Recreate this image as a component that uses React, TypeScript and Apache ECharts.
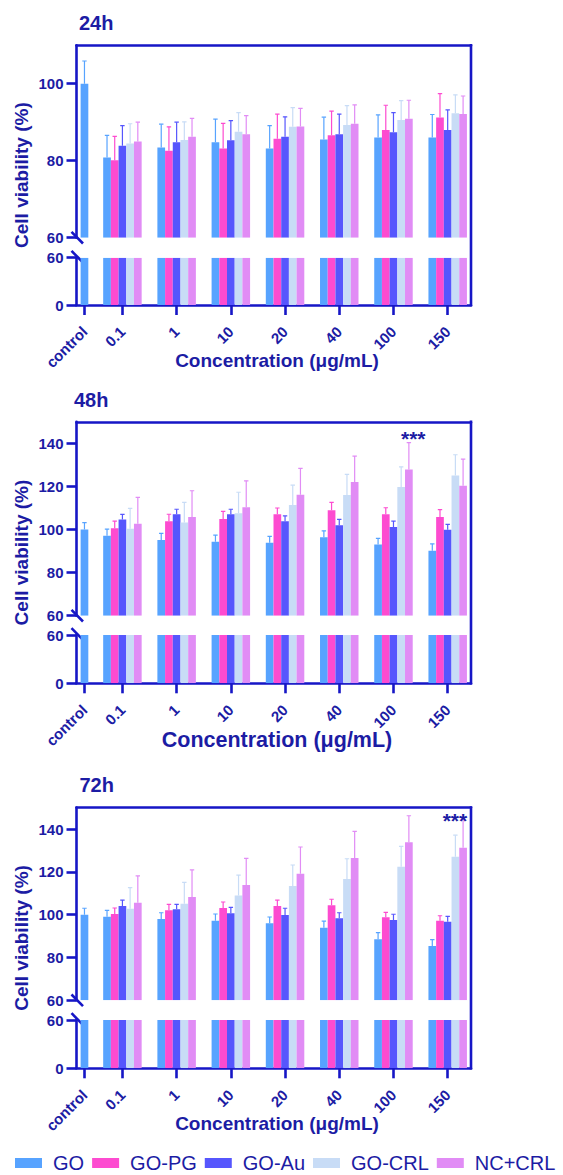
import React, { useEffect, useRef } from 'react';
import * as echarts from 'echarts';

// ---------------- data ----------------
const CATEGORIES = ['control', '0.1', '1', '10', '20', '40', '100', '150'];
const SERIES_NAMES = ['GO', 'GO-PG', 'GO-Au', 'GO-CRL', 'NC+CRL'];
const TIMEPOINTS = ['24h', '48h', '72h'];

// 24 h (mean, SD)
const H24_GO = [100, 80.8, 83.4, 84.8, 83.2, 85.5, 86.0, 86.0];
const H24_GO_SD = [5.9, 5.8, 6.1, 6.0, 5.9, 5.8, 5.9, 6.0];
const H24_PG = [null, 80.1, 82.6, 83.2, 85.7, 86.6, 88.0, 91.2];
const H24_PG_SD = [null, 6.2, 6.2, 6.5, 6.4, 6.3, 6.4, 6.2];
const H24_AU = [null, 83.9, 84.8, 85.3, 86.2, 86.9, 87.4, 88.0];
const H24_AU_SD = [null, 5.2, 5.2, 5.1, 5.2, 5.2, 5.1, 5.2];
const H24_CRL = [null, 84.5, 85.4, 87.5, 88.8, 89.3, 90.6, 92.3];
const H24_CRL_SD = [null, 5.1, 4.7, 5.0, 5.0, 5.0, 5.0, 4.8];
const H24_NC = [null, 85.0, 86.2, 86.9, 88.9, 89.6, 90.9, 92.1];
const H24_NC_SD = [null, 5.0, 4.8, 4.8, 4.7, 4.9, 4.8, 4.7];

// 48 h
const H48_GO = [100, 97.1, 95.1, 94.3, 93.9, 96.4, 93.1, 90.2];
const H48_GO_SD = [3.2, 3.1, 3.1, 3.1, 2.9, 3.0, 2.8, 3.1];
const H48_PG = [null, 100.6, 103.8, 104.9, 107.1, 109.0, 107.1, 105.8];
const H48_PG_SD = [null, 3.3, 3.3, 3.5, 2.9, 3.6, 3.0, 3.4];
const H48_AU = [null, 104.7, 107.1, 107.1, 103.8, 102.0, 101.2, 99.9];
const H48_AU_SD = [null, 2.3, 2.3, 2.3, 2.5, 2.7, 2.7, 2.5];
const H48_CRL = [null, 100.4, 103.3, 107.5, 111.4, 116.0, 119.7, 125.1];
const H48_CRL_SD = [null, 9.4, 9.3, 9.8, 9.2, 9.6, 9.4, 9.6];
const H48_NC = [null, 102.7, 105.8, 110.3, 116.1, 122.0, 127.9, 120.3];
const H48_NC_SD = [null, 12.2, 12.2, 12.3, 12.3, 12.1, 12.4, 12.4];

// 72 h
const H72_GO = [100, 99.0, 98.0, 97.2, 96.0, 93.9, 88.5, 85.4];
const H72_GO_SD = [3.0, 3.0, 2.9, 3.1, 2.9, 3.1, 3.1, 2.9];
const H72_PG = [null, 100.3, 102.0, 103.1, 104.0, 104.4, 98.8, 97.2];
const H72_PG_SD = [null, 2.8, 2.8, 2.8, 2.8, 2.8, 2.3, 2.3];
const H72_AU = [null, 104.0, 102.5, 100.6, 99.8, 98.3, 97.5, 96.7];
const H72_AU_SD = [null, 2.8, 2.3, 2.8, 3.2, 2.6, 2.7, 2.5];
const H72_CRL = [null, 102.8, 105.1, 108.9, 113.4, 116.7, 122.4, 127.1];
const H72_CRL_SD = [null, 9.8, 10.0, 9.6, 9.8, 9.4, 9.5, 10.0];
const H72_NC = [null, 105.6, 108.2, 113.9, 119.1, 126.5, 133.8, 131.3];
const H72_NC_SD = [null, 12.5, 12.7, 12.4, 12.5, 12.4, 12.4, 13.2];

// axis ticks
const UPPER_TICKS_24H = [60, 80, 100];
const UPPER_TICKS_LATE = [60, 80, 100, 120, 140];
const LOWER_TICKS = [0, 60];
const UPPER_MAX = [110, 150, 150];

// significance marks
const SIG_TIME = ['48h', '72h'];
const SIG_CATEGORY = ['100', '150'];
const SIG_LEVEL = [144.3, 146.2];
const SIG_TEXT = ['***', '***'];

// ---------------- styles / layout ----------------
const SERIES_COLORS = ['#57a3ff', '#fd4bd0', '#5656fd', '#c8dcf6', '#e18cf5'];
const AXIS_COLOR = '#1616c6';
const TEXT_COLOR = '#1c1ca4';
const FONT = "'Liberation Sans', Arial, Helvetica, sans-serif";

const GRID_LEFT = 76.5;
const GRID_WIDTH = 394.5;
const X_MIN = 0.153;
const X_MAX = 7.43;
const CAT_POS = [0.3, 1, 2, 3, 4, 5, 6, 7];
const BAR_W = 0.142;
const SIG_SHIFT = [0.365, 0.133];

const PANELS = [
  { titleX: 79, titleY: 22.7, upperTop: 45.2, upperBottom: 237.7, lowerTop: 257.7, lowerBottom: 305, nameY: 360, nameSize: 19 },
  { titleX: 74, titleY: 400, upperTop: 421.8, upperBottom: 615.7, lowerTop: 635, lowerBottom: 683.3, nameY: 740, nameSize: 21.5 },
  { titleX: 79.5, titleY: 785, upperTop: 807.6, upperBottom: 1000.3, lowerTop: 1020, lowerBottom: 1068.3, nameY: 1123, nameSize: 19 },
];

const TABLES: any[][][] = [
  [[H24_GO, H24_GO_SD], [H24_PG, H24_PG_SD], [H24_AU, H24_AU_SD], [H24_CRL, H24_CRL_SD], [H24_NC, H24_NC_SD]],
  [[H48_GO, H48_GO_SD], [H48_PG, H48_PG_SD], [H48_AU, H48_AU_SD], [H48_CRL, H48_CRL_SD], [H48_NC, H48_NC_SD]],
  [[H72_GO, H72_GO_SD], [H72_PG, H72_PG_SD], [H72_AU, H72_AU_SD], [H72_CRL, H72_CRL_SD], [H72_NC, H72_NC_SD]],
];

function buildOption() {
  const grid: any[] = [];
  const xAxis: any[] = [];
  const yAxis: any[] = [];
  const series: any[] = [];
  const graphic: any[] = [];
  const lineStyle = { color: AXIS_COLOR, width: 2.6 };

  PANELS.forEach((p, pi) => {
    const upperIdx = pi * 2;
    const lowerIdx = pi * 2 + 1;
    const upperTicks = pi === 0 ? UPPER_TICKS_24H : UPPER_TICKS_LATE;

    grid.push({ left: GRID_LEFT, width: GRID_WIDTH, top: p.upperTop, height: p.upperBottom - p.upperTop, outerBoundsMode: 'none' });
    grid.push({ left: GRID_LEFT, width: GRID_WIDTH, top: p.lowerTop, height: p.lowerBottom - p.lowerTop, outerBoundsMode: 'none' });

    xAxis.push({
      type: 'value', gridIndex: upperIdx, min: X_MIN, max: X_MAX, position: 'top',
      axisLine: { show: true, onZero: false, lineStyle },
      axisTick: { show: false }, axisLabel: { show: false }, splitLine: { show: false },
    });
    xAxis.push({
      type: 'value', gridIndex: lowerIdx, min: X_MIN, max: X_MAX, position: 'bottom',
      axisLine: { show: true, onZero: false, lineStyle },
      axisTick: { show: true, length: 10, lineStyle, customValues: CAT_POS },
      axisLabel: {
        show: true, customValues: CAT_POS, rotate: 45, margin: 24,
        fontSize: 15, fontWeight: 'bold', color: TEXT_COLOR, fontFamily: FONT,
        formatter: (v: number) => {
          const i = CAT_POS.findIndex((c) => Math.abs(c - v) < 1e-6);
          return i >= 0 ? CATEGORIES[i] : '';
        },
      },
      splitLine: { show: false },
    });

    const yCommon = (ticks: number[]) => ({
      axisLine: { show: true, onZero: false, lineStyle },
      axisTick: { show: true, length: 10, lineStyle, customValues: ticks },
      axisLabel: {
        show: true, customValues: ticks, margin: 13, fontSize: 15, fontWeight: 'bold',
        color: TEXT_COLOR, fontFamily: FONT,
      },
      splitLine: { show: false },
    });
    yAxis.push({ type: 'value', gridIndex: upperIdx, min: 60, max: UPPER_MAX[pi], ...yCommon(upperTicks) });
    yAxis.push({ type: 'value', gridIndex: lowerIdx, min: 0, max: 60, ...yCommon(LOWER_TICKS) });

    TABLES[pi].forEach(([vals, sds], si) => {
      const data: number[][] = [];
      vals.forEach((v: number | null, ci: number) => {
        if (v == null) return;
        const x = CAT_POS[ci] + (ci === 0 ? 0 : (si - 2) * BAR_W);
        data.push([x, v, sds[ci]]);
      });
      const color = SERIES_COLORS[si];
      [
        { idx: upperIdx, yMin: 60, yMax: UPPER_MAX[pi], err: true },
        { idx: lowerIdx, yMin: 0, yMax: 60, err: false },
      ].forEach((g) => {
        series.push({
          type: 'custom', name: SERIES_NAMES[si], xAxisIndex: g.idx, yAxisIndex: g.idx,
          itemStyle: { color }, clip: true, encode: { x: 0, y: 1 }, dimensions: ['x', 'v', 'sd'],
          data,
          renderItem: (params: any, api: any) => {
            const x = api.value(0);
            const v = api.value(1);
            const sd = api.value(2);
            const w = api.size([BAR_W, 0])[0];
            const base = api.coord([x, g.yMin]);
            const top = api.coord([x, Math.min(v, g.yMax)]);
            const children: any[] = [
              { type: 'rect', shape: { x: base[0] - w / 2, y: top[1], width: w, height: base[1] - top[1] }, style: { fill: color } },
            ];
            if (g.err && v > g.yMin) {
              const et = api.coord([x, v + sd]);
              children.push({ type: 'line', shape: { x1: base[0], y1: top[1], x2: base[0], y2: et[1] }, style: { stroke: color, lineWidth: 1.2 } });
              children.push({ type: 'line', shape: { x1: base[0] - 2.2, y1: et[1], x2: base[0] + 2.2, y2: et[1] }, style: { stroke: color, lineWidth: 1.2 } });
            }
            return { type: 'group', children };
          },
        });
      });
    });

    // significance
    const sigData: any[] = [];
    SIG_TIME.forEach((t, k) => {
      if (t !== TIMEPOINTS[pi]) return;
      const ci = CATEGORIES.indexOf(SIG_CATEGORY[k]);
      sigData.push([CAT_POS[ci] + SIG_SHIFT[k], SIG_LEVEL[k], k]);
    });
    if (sigData.length) {
      series.push({
        type: 'custom', name: 'sig', xAxisIndex: upperIdx, yAxisIndex: upperIdx, clip: false,
        encode: { x: 0, y: 1 }, data: sigData,
        renderItem: (params: any, api: any) => {
          const pt = api.coord([api.value(0), api.value(1)]);
          return {
            type: 'text', x: pt[0], y: pt[1] + 4.6,
            style: { text: SIG_TEXT[api.value(2)], fill: TEXT_COLOR, font: `bold 21px ${FONT}`, align: 'center', verticalAlign: 'middle' },
          };
        },
      });
    }

    // decorations
    const right = GRID_LEFT + GRID_WIDTH;
    graphic.push({ type: 'line', shape: { x1: right, y1: p.upperTop - 1.3, x2: right, y2: p.lowerBottom + 1.3 }, style: { stroke: AXIS_COLOR, lineWidth: 2.6 }, silent: true });
    [p.upperBottom, p.lowerTop - 1].forEach((y) => {
      graphic.push({ type: 'line', shape: { x1: GRID_LEFT - 5, y1: y - 5.8, x2: GRID_LEFT + 6.5, y2: y + 5.8 }, style: { stroke: AXIS_COLOR, lineWidth: 2.6 }, silent: true });
    });
    graphic.push({ type: 'text', x: p.titleX, y: p.titleY, style: { text: TIMEPOINTS[pi], fill: TEXT_COLOR, font: `bold 20px ${FONT}`, align: 'left', verticalAlign: 'middle' } });
    graphic.push({
      type: 'text', x: 21.5, y: (p.upperTop + p.lowerBottom) / 2, rotation: Math.PI / 2,
      style: { text: 'Cell viability (%)', fill: TEXT_COLOR, font: `bold 19px ${FONT}`, align: 'center', verticalAlign: 'middle' },
    });
    graphic.push({
      type: 'text', x: 277, y: p.nameY,
      style: { text: 'Concentration (μg/mL)', fill: TEXT_COLOR, font: `bold ${p.nameSize}px ${FONT}`, align: 'center', verticalAlign: 'middle' },
    });
  });

  return {
    animation: false,
    backgroundColor: '#ffffff',
    grid, xAxis, yAxis, series, graphic,
    legend: {
      data: SERIES_NAMES, left: 15, right: 0, top: 1153, padding: 0, icon: 'rect',
      itemWidth: 27, itemHeight: 10, itemGap: 8,
      textStyle: { fontSize: 20, color: TEXT_COLOR, fontFamily: FONT, padding: [0, 0, 0, 6] },
    },
  };
}

export default function App() {
  const ref = useRef<HTMLDivElement>(null);
  useEffect(() => {
    document.body.style.margin = '0';
    if (!ref.current) return;
    const chart = echarts.init(ref.current, undefined, { renderer: 'svg' });
    chart.setOption(buildOption() as any);
    return () => chart.dispose();
  }, []);
  return <div ref={ref} style={{ width: 563, height: 1175 }} />;
}
